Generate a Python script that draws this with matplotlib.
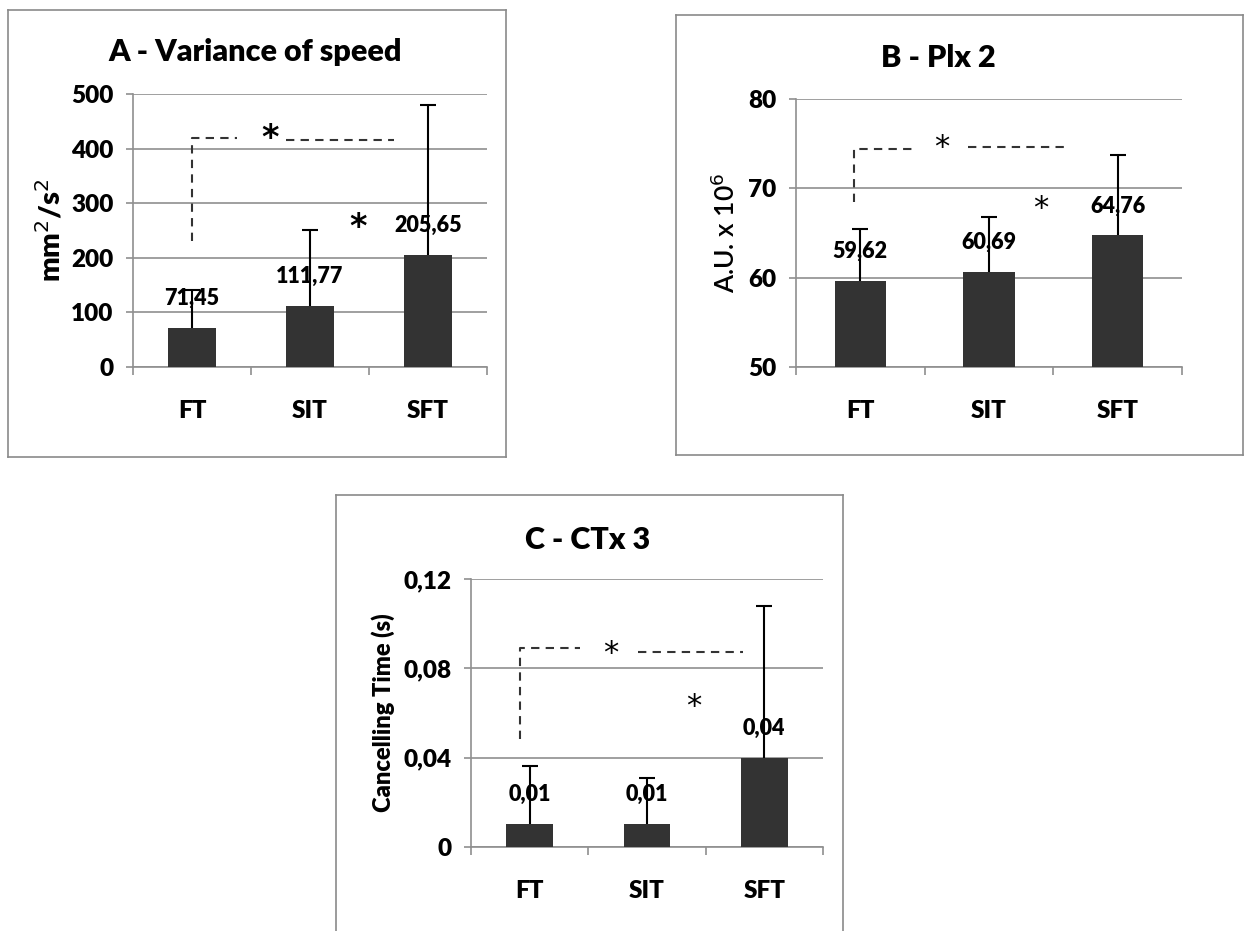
import matplotlib
matplotlib.use("Agg")
import matplotlib.pyplot as plt

W, H = 1245, 931

categories = ["FT", "SIT", "SFT"]

# A - variance of speed
a_means = [71.45, 111.77, 205.65]
a_errs = [70, 139, 275]
a_labels = ["71,45", "111,77", "205,65"]
a_yticks = [0, 100, 200, 300, 400, 500]
a_yticklabels = ["0", "100", "200", "300", "400", "500"]

# B - Plx 2
b_means = [59.62, 60.69, 64.76]
b_errs = [5.85, 6.1, 8.95]
b_labels = ["59,62", "60,69", "64,76"]
b_yticks = [50, 60, 70, 80]
b_yticklabels = ["50", "60", "70", "80"]

# C - CTx 3
c_means = [0.0103, 0.0103, 0.04]
c_errs = [0.026, 0.0206, 0.068]
c_labels = ["0,01", "0,01", "0,04"]
c_yticks = [0, 0.04, 0.08, 0.12]
c_yticklabels = ["0", "0,04", "0,08", "0,12"]

# significance brackets: (vertical x, y_low, y_top, first seg end x, star1 x, star1 y,
#                         second seg start x, second seg end x, second seg y, star2 x, star2 y)
a_sig = (0.0, 231, 419, 0.38, 0.66, 419, 0.80, 1.71, 416, 1.41, 255)
b_sig = (-0.05, 68.5, 74.4, 0.42, 0.63, 74.6, 0.84, 1.61, 74.6, 1.40, 67.7)
c_sig = (-0.08, 0.0484, 0.0891, 0.43, 0.69, 0.0866, 0.92, 1.82, 0.0873, 1.40, 0.0627)

FONT = "Lato"
BAR = "#333333"
GRID = "#8f8f8f"


def px_axes(fig, left, top, right, bottom):
    return fig.add_axes([left / W, 1 - bottom / H, (right - left) / W, (bottom - top) / H])


def frame(fig, left, top, right, bottom, edges="lrtb"):
    c = "#8a8a8a"
    x0, x1 = left / W, right / W
    y0, y1 = 1 - bottom / H, 1 - top / H
    segs = {"l": ([x0, x0], [y0, y1]), "r": ([x1, x1], [y0, y1]),
            "t": ([x0, x1], [y1, y1]), "b": ([x0, x1], [y0, y0])}
    for e in edges:
        xs, ys = segs[e]
        fig.add_artist(plt.Line2D(xs, ys, color=c, lw=1.2, transform=fig.transFigure))


def panel(ax, means, errs, labels, yticks, yticklabels, ylim, sig, star_bold):
    x = range(len(categories))
    ax.bar(x, [m - ylim[0] for m in means], bottom=ylim[0], width=0.4,
           color=BAR, zorder=3)
    eb = ax.errorbar(x, means, yerr=[[0] * 3, errs], fmt="none", ecolor="black",
                     elinewidth=1.5, capsize=6, capthick=1.5, zorder=4)
    eb[1][0].set_visible(False)  # no cap at the bar top
    for xi, m, lab in zip(x, means, labels):
        ax.annotate(lab, (xi, m), xytext=(0, 21), textcoords="offset points",
                    ha="center", va="center", fontsize=15.5, fontweight="heavy",
                    family=FONT, zorder=5)
    ax.set_xlim(-0.5, 2.5)
    ax.set_ylim(*ylim)
    ax.set_yticks(yticks)
    ax.set_yticklabels(yticklabels, fontsize=17.5, fontweight="heavy", family=FONT)
    ax.set_xticks(list(x))
    ax.set_xticklabels(categories, fontsize=17.5, fontweight="heavy", family=FONT)
    ax.set_xticks([-0.5, 0.5, 1.5, 2.5], minor=True)
    ax.tick_params(axis="x", which="major", length=0, pad=24)
    ax.tick_params(axis="x", which="minor", length=6, color=GRID, width=1.2, direction="out")
    ax.tick_params(axis="y", length=5, color=GRID, width=1.2, pad=9)
    ax.grid(axis="y", color=GRID, lw=1.2, zorder=0)
    for s in ("top", "right"):
        ax.spines[s].set_visible(False)
    ax.spines["left"].set_color(GRID)
    ax.spines["bottom"].set_color(GRID)
    ax.spines["left"].set_linewidth(1.2)
    ax.spines["bottom"].set_linewidth(1.2)

    vx, ylo, ytop, e1, s1x, s1y, s2a, s2b, s2y, st2x, st2y = sig
    dash = dict(color="#333333", lw=1.5, ls=(0, (4, 3)), zorder=6, clip_on=False)
    ax.plot([vx, vx, e1], [ylo, ytop, ytop], **dash)
    ax.plot([s2a, s2b], [s2y, s2y], **dash)
    fw = "heavy" if star_bold else "normal"
    for sx, sy in ((s1x, s1y), (st2x, st2y)):
        ax.text(sx, sy, "*", ha="center", va="center", fontsize=24 if star_bold else 22,
                fontweight=fw, family="DejaVu Sans", zorder=6)


fig = plt.figure(figsize=(W / 100, H / 100), dpi=100)
fig.patch.set_facecolor("white")

# Panel A
frame(fig, 8, 10, 506, 457)
axA = px_axes(fig, 133, 94, 487, 367)
panel(axA, a_means, a_errs, a_labels, a_yticks, a_yticklabels, (0, 500), a_sig, True)
axA.set_ylabel("mm$^2$/s$^2$", fontsize=21, fontweight="heavy", family=FONT, labelpad=4)
fig.text(255 / W, 1 - 52 / H, "A - Variance of speed", ha="center", va="center",
         fontsize=22, fontweight="heavy", family=FONT)

# Panel B
frame(fig, 676, 15, 1243, 455)
axB = px_axes(fig, 796, 99, 1182, 367)
panel(axB, b_means, b_errs, b_labels, b_yticks, b_yticklabels, (50, 80), b_sig, False)
axB.set_ylabel("A.U. x 10$^6$", fontsize=19, fontweight="semibold", family=FONT, labelpad=6)
fig.text(938 / W, 1 - 58 / H, "B - Plx 2", ha="center", va="center",
         fontsize=22, fontweight="heavy", family=FONT)

# Panel C
frame(fig, 336, 495, 843, 931, edges="lrt")
axC = px_axes(fig, 471, 579, 823, 847)
panel(axC, c_means, c_errs, c_labels, c_yticks, c_yticklabels, (0, 0.12), c_sig, False)
axC.set_ylabel("Cancelling Time (s)", fontsize=17, fontweight="heavy", family=FONT, labelpad=6)
fig.text(588 / W, 1 - 540 / H, "C - CTx 3", ha="center", va="center",
         fontsize=22, fontweight="heavy", family=FONT)

fig.savefig("out.png", dpi=100, facecolor="white")
